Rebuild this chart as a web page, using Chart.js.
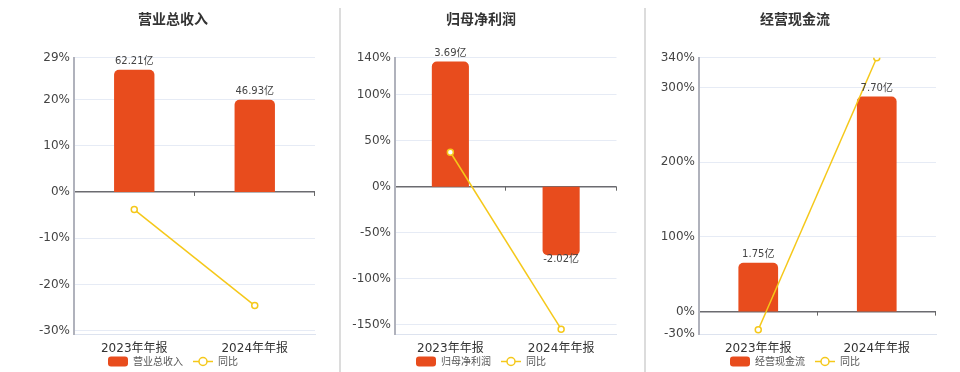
<!DOCTYPE html>
<html>
<head>
<meta charset="utf-8">
<script src="https://cdn.jsdelivr.net/npm/chart.js@4.4.1/dist/chart.umd.min.js"></script>
<style>
  html, body { margin: 0; padding: 0; background: #fff; }
  #wrap { position: relative; width: 960px; height: 372px; overflow: hidden; }
  .panel { position: absolute; top: 0; height: 372px; }
  .divider { position: absolute; top: 8px; bottom: 0; width: 2px; background: #dcdcdc; }
</style>
</head>
<body>
<div id="wrap">
  <div class="panel" style="left:0;width:346px"><canvas id="c-revenue" width="346" height="372"></canvas></div>
  <div class="panel" style="left:340px;width:282px"><canvas id="c-profit" width="282" height="372"></canvas></div>
  <div class="panel" style="left:645px;width:300px"><canvas id="c-cash" width="300" height="372"></canvas></div>
  <div class="divider" style="left:339px"></div>
  <div class="divider" style="left:644px"></div>
</div>
<script>
// data
const categories = ['2023年年报', '2024年年报'];

const revenueBars = [62.21, 46.93];      // 亿
const revenueYoy = [-3.8, -24.56];       // %
const revenueTicks = [-30, -20, -10, 0, 10, 20, 29];

const profitBars = [3.69, -2.02];
const profitYoy = [37.4, -154.74];
const profitTicks = [-150, -100, -50, 0, 50, 100, 140];

const cashBars = [1.75, 7.70];
const cashYoy = [-24.3, 340.0];
const cashTicks = [-30, 0, 100, 200, 300, 340];

const BAR_COLOR = '#e84c1d';
const LINE_COLOR = '#f5c81a';
const TICK_FONT = "'DejaVu Sans', 'Noto Sans CJK SC', sans-serif";
const CJK_FONT = "'Noto Sans CJK SC', 'DejaVu Sans', sans-serif";

// legend icons
function makeBarIcon() {
    const c = document.createElement('canvas');
    c.width = 20; c.height = 11;
    const g = c.getContext('2d');
    g.fillStyle = BAR_COLOR;
    g.beginPath();
    g.roundRect(0, 0.5, 20, 10, 3);
    g.fill();
    return c;
}
function makeLineIcon() {
    const c = document.createElement('canvas');
    c.width = 20; c.height = 11;
    const g = c.getContext('2d');
    g.strokeStyle = LINE_COLOR;
    g.lineWidth = 1.5;
    g.beginPath(); g.moveTo(0, 5.5); g.lineTo(20, 5.5); g.stroke();
    g.fillStyle = '#fff';
    g.beginPath(); g.arc(10, 5.5, 4, 0, Math.PI * 2); g.fill(); g.stroke();
    return c;
}
const barIcon = makeBarIcon();
const lineIcon = makeLineIcon();

// bar value labels + small ticks on the zero line
const valueLabels = {
    id: 'valueLabels',
    afterDatasetsDraw(chart) {
        const ctx = chart.ctx;
        const ds = chart.data.datasets[0];
        const meta = chart.getDatasetMeta(0);
        ctx.save();
        ctx.font = '10px ' + TICK_FONT;
        ctx.fillStyle = '#444';
        ctx.textAlign = 'center';
        ctx.textBaseline = 'middle';
        meta.data.forEach((el, i) => {
            const v = ds.data[i];
            const y = v >= 0 ? el.y - 8 : el.y + 4;
            ctx.fillText(v.toFixed(2) + '亿', el.x, y);
        });
        const xs = chart.scales.x;
        const y0 = chart.scales.y.getPixelForValue(0);
        const n = chart.data.labels.length;
        ctx.strokeStyle = '#666';
        ctx.lineWidth = 1;
        for (let i = 1; i <= n; i++) {
            const px = Math.round(xs.left + xs.width * i / n) - 0.5;
            ctx.beginPath(); ctx.moveTo(px, y0); ctx.lineTo(px, y0 + 4); ctx.stroke();
        }
        ctx.restore();
    }
};

// legend row under the x labels, centred on the canvas
const legendRow = {
    id: 'legendRow',
    afterDraw(chart) {
        const ctx = chart.ctx;
        ctx.save();
        ctx.font = '10px ' + CJK_FONT;
        const items = chart.data.datasets.map((ds, i) => ({ text: ds.label, icon: i === 0 ? barIcon : lineIcon }));
        let total = 0;
        items.forEach((it, i) => {
            it.w = ctx.measureText(it.text).width;
            total += 20 + 5 + it.w + (i ? 10 : 0);
        });
        let x = Math.round((chart.width - total) / 2);
        const y = 361;
        ctx.textBaseline = 'middle';
        ctx.fillStyle = '#555';
        items.forEach(it => {
            ctx.drawImage(it.icon, x, Math.round(y - it.icon.height / 2));
            x += 25;
            ctx.fillText(it.text, x, y);
            x += it.w + 10;
        });
        ctx.restore();
    }
};

function makePanel(id, cfg) {
    const barMin = cfg.barMax * cfg.yMin / cfg.yMax;
    return new Chart(document.getElementById(id).getContext('2d'), {
        type: 'bar',
        data: {
            labels: categories,
            datasets: [
                {
                    type: 'bar', label: cfg.title, data: cfg.bars, yAxisID: 'y1', order: 1,
                    backgroundColor: BAR_COLOR, borderRadius: 5, borderSkipped: 'start',
                    barPercentage: 0.335, categoryPercentage: 1
                },
                {
                    type: 'line', label: '同比', data: cfg.yoy, yAxisID: 'y', order: 0,
                    borderColor: LINE_COLOR, borderWidth: 1.5,
                    pointRadius: 3, pointBorderWidth: 1.5,
                    pointBackgroundColor: '#fff', pointBorderColor: LINE_COLOR
                }
            ]
        },
        options: {
            responsive: false,
            animation: false,
            layout: { padding: { bottom: 14 } },
            plugins: {
                title: {
                    display: true, text: cfg.title, color: '#333',
                    font: { family: CJK_FONT, size: 14, weight: 'bold' },
                    padding: { top: 10, bottom: 31 }
                },
                legend: { display: false },
                tooltip: { enabled: false }
            },
            scales: {
                x: {
                    grid: { display: false, drawTicks: false },
                    border: { color: '#dde3ef', width: 1 },
                    ticks: { color: '#333', padding: 8, font: { family: TICK_FONT, size: 12 } },
                    afterFit: s => { s.height = 24; }
                },
                y: {
                    position: 'left',
                    min: cfg.yMin, max: cfg.yMax,
                    afterBuildTicks: s => { s.ticks = cfg.ticks.map(v => ({ value: v })); },
                    afterFit: s => { s.width = cfg.yWidth; },
                    grid: {
                        drawTicks: false,
                        color: c => c.tick && c.tick.value === 0 ? '#6b6b70' : '#e6ebf5',
                        lineWidth: c => c.tick && c.tick.value === 0 ? 1.5 : 1
                    },
                    border: { color: '#b0b2bc', width: 2 },
                    ticks: {
                        color: '#444', padding: 4,
                        font: { family: TICK_FONT, size: 12 },
                        callback: v => v + '%'
                    }
                },
                y1: {
                    position: 'right',
                    min: barMin, max: cfg.barMax,
                    grid: { display: false, drawTicks: false },
                    border: { display: false },
                    ticks: { display: false },
                    afterFit: s => { s.width = cfg.rightWidth; }
                }
            }
        },
        plugins: [valueLabels, legendRow]
    });
}

makePanel('c-revenue', {
    title: '营业总收入', bars: revenueBars, yoy: revenueYoy, ticks: revenueTicks,
    yMin: -30.7, yMax: 29, barMax: 68.34, yWidth: 74, rightWidth: 31
});
makePanel('c-profit', {
    title: '归母净利润', bars: profitBars, yoy: profitYoy, ticks: profitTicks,
    yMin: -160, yMax: 140, barMax: 3.798, yWidth: 55, rightWidth: 1
});
makePanel('c-cash', {
    title: '经营现金流', bars: cashBars, yoy: cashYoy, ticks: cashTicks,
    yMin: -30, yMax: 340, barMax: 9.088, yWidth: 54, rightWidth: 9
});
</script>
</body>
</html>
